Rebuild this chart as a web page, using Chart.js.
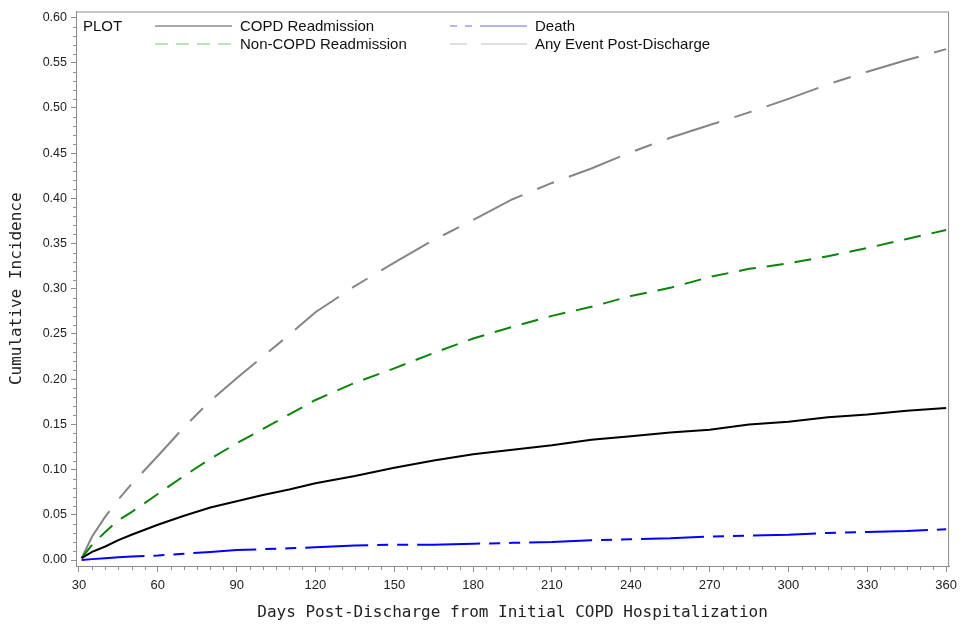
<!DOCTYPE html>
<html>
<head>
<meta charset="utf-8">
<script src="https://cdn.jsdelivr.net/npm/chart.js@4/dist/chart.umd.min.js"></script>
<style>
  body { margin: 0; background: #fff; }
  #wrap { width: 963px; height: 626px; }
</style>
</head>
<body>
<div id="wrap"><canvas id="myChart" width="963" height="626"></canvas></div>
<script>
'use strict';

var days = [31, 35, 40, 45, 50, 60, 70, 80, 90, 100, 110, 120, 135, 150, 165, 180, 195, 210, 225, 240, 255, 270, 285, 300, 315, 330, 345, 360];

var copdReadmit = [0.002, 0.009, 0.015, 0.022, 0.028, 0.039, 0.049, 0.058, 0.065, 0.072, 0.078, 0.085, 0.093, 0.102, 0.110, 0.117, 0.122, 0.127, 0.133, 0.137, 0.141, 0.144, 0.150, 0.153, 0.158, 0.161, 0.165, 0.168];
var nonCopdReadmit = [0.002, 0.017, 0.031, 0.044, 0.053, 0.073, 0.093, 0.112, 0.129, 0.145, 0.161, 0.177, 0.196, 0.212, 0.229, 0.245, 0.258, 0.270, 0.280, 0.292, 0.301, 0.313, 0.322, 0.328, 0.336, 0.345, 0.355, 0.365];
var death = [0.000, 0.001, 0.002, 0.003, 0.004, 0.005, 0.007, 0.009, 0.011, 0.012, 0.013, 0.014, 0.016, 0.017, 0.017, 0.018, 0.019, 0.020, 0.022, 0.023, 0.024, 0.026, 0.027, 0.028, 0.030, 0.031, 0.032, 0.034];
var anyEvent = [0.002, 0.026, 0.048, 0.067, 0.084, 0.115, 0.147, 0.176, 0.201, 0.225, 0.249, 0.274, 0.303, 0.329, 0.354, 0.376, 0.399, 0.417, 0.433, 0.451, 0.467, 0.481, 0.495, 0.510, 0.526, 0.540, 0.553, 0.565];

var xTicks = [30, 60, 90, 120, 150, 180, 210, 240, 270, 300, 330, 360];
var yTicks = [0, 0.05, 0.10, 0.15, 0.20, 0.25, 0.30, 0.35, 0.40, 0.45, 0.50, 0.55, 0.60];

function pts(vals) {
    return days.map(function (d, i) { return { x: d, y: vals[i] }; });
}

var axisColor = '#8c8c8c';
var tickFont = { family: 'Liberation Sans, Arial, sans-serif', size: 13 };

// legend entries: col, row, sample colour, sample dash
var legendItems = [
    { ds: 0, col: 0, row: 0, color: '#555555', dash: [] },
    { ds: 2, col: 1, row: 0, color: '#6a6aff', dash: [7, 8, 7, 8, 47, 40] },
    { ds: 1, col: 0, row: 1, color: '#74c874', dash: [13, 8] },
    { ds: 3, col: 1, row: 1, color: '#bdbdbd', dash: [17, 14, 47, 40] }
];

var framePlugin = {
    id: 'frame',
    afterDraw: function (chart) {
        var ctx = chart.ctx;
        var a = chart.chartArea;
        var xs = chart.scales.x;
        var ys = chart.scales.y;
        ctx.save();
        ctx.strokeStyle = axisColor;
        ctx.lineWidth = 1;
        ctx.strokeRect(a.left + 0.5, a.top + 0.5, a.right - a.left - 1, a.bottom - a.top);
        // minor ticks
        ctx.beginPath();
        for (var d = 30; d <= 360; d += 5) {
            if (d % 30 === 0) continue;
            var px = Math.round(xs.getPixelForValue(d)) + 0.5;
            ctx.moveTo(px, a.bottom);
            ctx.lineTo(px, a.bottom + 4);
        }
        for (var k = 0; k <= 60; k++) {
            if (k % 5 === 0) continue;
            var py = Math.round(ys.getPixelForValue(k / 100)) + 0.5;
            ctx.moveTo(a.left, py);
            ctx.lineTo(a.left - 3, py);
        }
        ctx.stroke();

        // legend
        var lx = a.left;
        var ly = a.top;
        ctx.font = '15px "Liberation Sans", Arial, sans-serif';
        ctx.fillStyle = '#111';
        ctx.textBaseline = 'middle';
        ctx.fillText('PLOT', lx + 7, ly + 15);
        legendItems.forEach(function (it) {
            var sx = lx + 79 + it.col * 295;
            var sy = ly + 14 + it.row * 18;
            ctx.beginPath();
            ctx.strokeStyle = it.color;
            ctx.lineWidth = 1;
            ctx.setLineDash(it.dash);
            ctx.moveTo(sx, sy + 0.5);
            ctx.lineTo(sx + 77, sy + 0.5);
            ctx.stroke();
            ctx.setLineDash([]);
            ctx.fillStyle = '#111';
            ctx.fillText(chart.data.datasets[it.ds].label, sx + 85, sy + 1);
        });
        ctx.restore();
    }
};

var ctx = document.getElementById('myChart').getContext('2d');
var chart = new Chart(ctx, {
    type: 'line',
    data: {
        datasets: [{
            label: 'COPD Readmission',
            data: pts(copdReadmit),
            borderColor: '#000000',
            borderWidth: 2
        },
        {
            label: 'Non-COPD Readmission',
            data: pts(nonCopdReadmit),
            borderColor: '#0a850a',
            borderWidth: 2,
            borderDash: [17, 11]
        },
        {
            label: 'Death',
            data: pts(death),
            borderColor: '#0000ff',
            borderWidth: 2,
            borderDash: [63, 9, 11, 9, 11, 9]
        },
        {
            label: 'Any Event Post-Discharge',
            data: pts(anyEvent),
            borderColor: '#858585',
            borderWidth: 2,
            borderDash: [55, 16, 18, 16]
        }]
    },
    options: {
        responsive: false,
        animation: false,
        layout: { padding: { top: 11, right: 8, left: 0, bottom: 0 } },
        elements: {
            point: { radius: 0 },
            line: { tension: 0, fill: false }
        },
        plugins: {
            legend: { display: false },
            tooltip: { enabled: false }
        },
        scales: {
            x: {
                type: 'linear',
                min: 28.87,
                max: 361.13,
                afterBuildTicks: function (scale) {
                    scale.ticks = xTicks.map(function (v) { return { value: v }; });
                },
                afterFit: function (scale) { scale.height = 60; },
                ticks: {
                    autoSkip: false,
                    maxRotation: 0,
                    padding: 6,
                    color: '#222',
                    font: tickFont,
                    callback: function (v) { return String(v); }
                },
                grid: { drawOnChartArea: false, color: axisColor, tickLength: 6 },
                border: { color: axisColor },
                title: {
                    display: true,
                    text: 'Days Post-Discharge from Initial COPD Hospitalization',
                    color: '#222',
                    font: { family: '"DejaVu Sans Mono", monospace', size: 16 },
                    padding: { top: 0, bottom: 4 }
                }
            },
            y: {
                type: 'linear',
                min: -0.0066,
                max: 0.6066,
                afterBuildTicks: function (scale) {
                    scale.ticks = yTicks.map(function (v) { return { value: v }; });
                },
                afterFit: function (scale) { scale.width = 76; },
                ticks: {
                    autoSkip: false,
                    padding: 4,
                    color: '#222',
                    font: { family: 'Liberation Sans, Arial, sans-serif', size: 12.5 },
                    callback: function (v) { return Number(v).toFixed(2); }
                },
                grid: { drawOnChartArea: false, color: axisColor, tickLength: 5 },
                border: { color: axisColor },
                title: {
                    display: true,
                    text: 'Cumulative Incidence',
                    color: '#222',
                    font: { family: '"DejaVu Sans Mono", monospace', size: 16 },
                    padding: { top: 7, bottom: 0 }
                }
            }
        }
    },
    plugins: [framePlugin]
});
</script>
</body>
</html>
